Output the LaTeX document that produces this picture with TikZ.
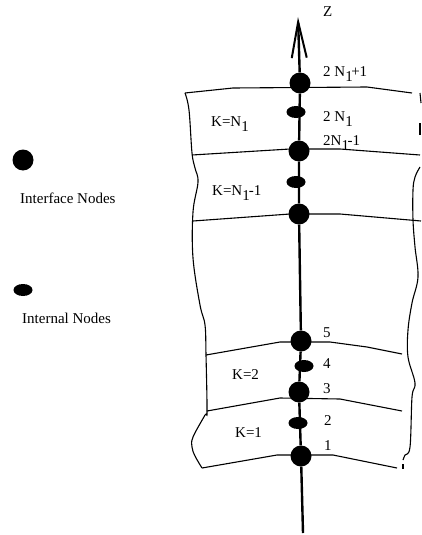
\documentclass[tikz,border=0pt]{standalone}
\usepackage{fontspec}
\setmainfont{Liberation Serif}
\usetikzlibrary{arrows.meta,shapes.geometric}
\newcommand\lsub[1]{\raisebox{-5pt}{#1}}
\begin{document}
\begin{tikzpicture}[x=1pt,y=-1pt, font=\fontsize{15}{18}\selectfont,
  inode/.style={circle,fill,inner sep=0pt,minimum size=21pt},
  mnode/.style={ellipse,fill,inner sep=0pt,minimum width=19pt,minimum height=12pt},
  layer/.style={line width=1.1pt},
  axisline/.style={line width=2.4pt,-{Straight Barb[length=36pt,width=15pt,line width=2pt]}},
  lbl/.style={anchor=base west,inner sep=0pt}]
\useasboundingbox (0,0) rectangle (421,535);

% layer interfaces
\draw[layer] (185,93) -- (233,88) -- (367,87) -- (412,93);
\draw[layer] (192,155) -- (290,149) -- (340,149) -- (420,155);
\draw[layer] (193,221) -- (290,214) -- (340,214) -- (421,221);
\draw[layer] (206,355) -- (280,342) -- (330,342) -- (367,347) -- (402,354);
\draw[layer] (207,411) -- (280,398) -- (340,399) -- (402,411);
\draw[layer] (202,468) -- (277,455) -- (333,455) -- (397,468);

% left boundary
\draw[layer] plot[smooth, tension=0.6] coordinates {(185,93) (189,110) (192,153) (195,168) (198,182) (193,212) (193,258) (200,305) (205,325) (206,355) (207,411) (205,415) (193,437) (192,447) (195,456) (202,468)};
% right boundary
\draw[layer] (420,93) -- (421,103);
\draw[layer] (420,123) -- (420,135);
\draw[layer] plot[smooth, tension=0.6] coordinates {(420,167) (415,177) (413,190) (413,220) (415,247) (418,277) (412,303) (408,330) (408,357) (415,383) (412,397) (410,447) (405,455) (403,460)};
\draw[layer] (403,464) -- (403,469);

% nodes
\node[inode] (i1) at (301,456) {};
\node[inode] (i3) at (299,392) {};
\node[inode] (i5) at (301,341) {};
\node[inode] (iA) at (299,214) {};
\node[inode] (iB) at (299,151) {};
\node[inode] (iC) at (300,83) {};
\node[mnode] (n2) at (298,423) {};
\node[mnode] (n4) at (304,366) {};
\node[mnode] (nA) at (296,182) {};
\node[mnode] (nB) at (296,112) {};

% axis
\coordinate (zbot) at (303,533);
\coordinate (ztop) at (298,17);
\draw[axisline] (zbot) -- (i1) -- (i3) -- (i5) -- (iA) -- (iB) -- (iC) -- (ztop);

% labels
\node[lbl] (lz) at (323,17) {Z};
\node[lbl] (l9) at (323,77) {2 N\lsub{1}\kern-1.5pt+1};
\node[lbl] (l8) at (323,121) {2 N\lsub{1}};
\node[lbl] (l7) at (323,145) {2N\lsub{1}\kern-1.5pt-1};
\node[lbl] (lk3) at (211,126) {K=N\lsub{1}};
\node[lbl] (lk2) at (212,195) {K=N\lsub{1}\kern-1pt-1};
\node[lbl] (l5) at (323,337) {5};
\node[lbl] (l4) at (323,368) {4};
\node[lbl] (l3) at (323,393) {3};
\node[lbl] (l2) at (324,425) {2};
\node[lbl] (l1) at (324,450) {1};
\node[lbl] (lkb) at (232,379) {K=2};
\node[lbl] (lka) at (235,437) {K=1};

% legend
\node[inode] (legi) at (23,160) {};
\node[lbl] (legit) at (20,203) {Interface Nodes};
\node[mnode] (legm) at (23,290) {};
\node[lbl] (legmt) at (22,323) {Internal Nodes};
\end{tikzpicture}
\end{document}
